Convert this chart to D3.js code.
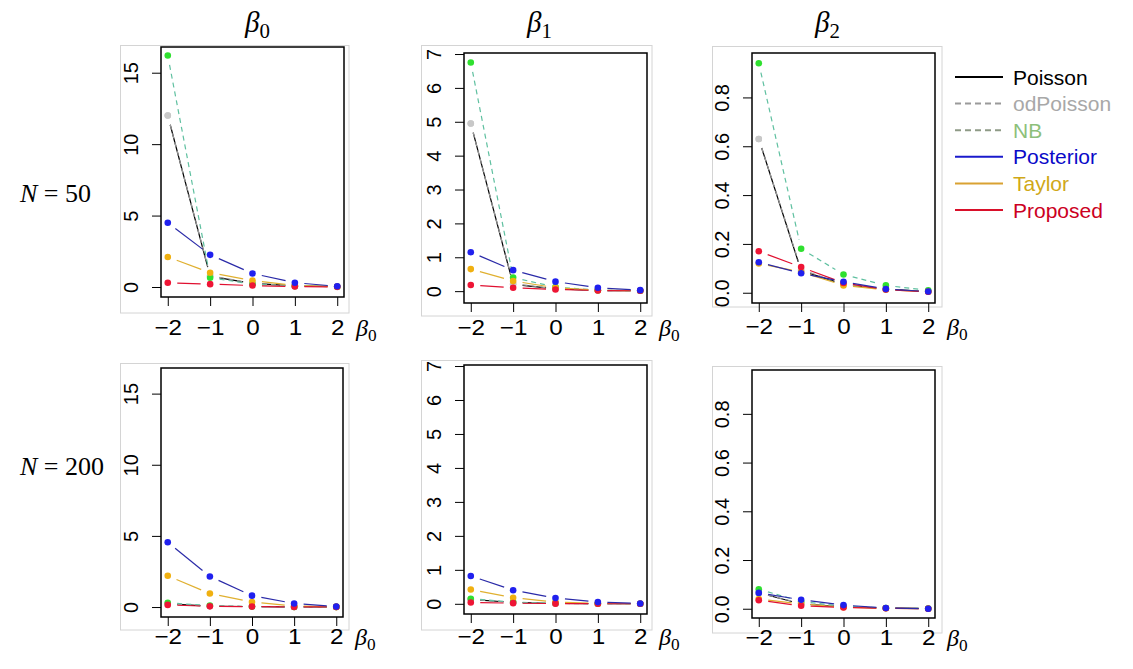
<!DOCTYPE html>
<meta charset="utf-8">
<style>

    body {
        margin: 0;
        background: #fff;
    }

    text {
        pointer-events: none;
    }

    .greek {
        font-family: "Liberation Serif", "DejaVu Serif", serif;
        font-style: italic;
    }

</style>

<body>

<div id="d3_target"></div>
<script src="https://d3js.org/d3.v7.min.js"></script>
<script>
    // series and x levels
    var seriesNames = ["Poisson", "odPoisson", "NB", "Posterior", "Taylor", "Proposed"];
    var betaLevels = [-2, -1, 0, 1, 2];
    var paramNames = ["0", "1", "2"];
    var sampleSizes = ["50", "200"];

    // rows follow seriesNames order, columns follow betaLevels
    var n50_beta0 = [
        [12.0, 0.75, 0.25, 0.08, 0.03],
        [12.0, 0.8, 0.25, 0.08, 0.03],
        [16.2, 0.65, 0.2, 0.06, 0.02],
        [4.5, 2.25, 0.95, 0.3, 0.05],
        [2.1, 1.0, 0.45, 0.1, 0.02],
        [0.3, 0.2, 0.1, 0.03, 0.01]
    ];
    var n50_beta1 = [
        [4.95, 0.2, 0.07, 0.02, 0.01],
        [4.95, 0.22, 0.07, 0.02, 0.01],
        [6.75, 0.4, 0.12, 0.03, 0.01],
        [1.15, 0.62, 0.28, 0.1, 0.03],
        [0.65, 0.3, 0.1, 0.03, 0.01],
        [0.18, 0.1, 0.05, 0.02, 0.01]
    ];
    var n50_beta2 = [
        [0.63, 0.09, 0.035, 0.015, 0.005],
        [0.63, 0.095, 0.035, 0.015, 0.005],
        [0.94, 0.18, 0.075, 0.03, 0.01],
        [0.125, 0.08, 0.045, 0.015, 0.005],
        [0.12, 0.085, 0.03, 0.012, 0.004],
        [0.17, 0.105, 0.04, 0.013, 0.004]
    ];
    var n200_beta0 = [
        [0.22, 0.06, 0.03, 0.01, 0.01],
        [0.22, 0.07, 0.03, 0.01, 0.01],
        [0.3, 0.1, 0.04, 0.01, 0.01],
        [4.55, 2.15, 0.8, 0.25, 0.03],
        [2.2, 0.95, 0.35, 0.08, 0.01],
        [0.15, 0.05, 0.03, 0.01, 0.01]
    ];
    var n200_beta1 = [
        [0.13, 0.04, 0.01, 0.005, 0.002],
        [0.13, 0.04, 0.01, 0.005, 0.002],
        [0.15, 0.05, 0.015, 0.005, 0.002],
        [0.82, 0.4, 0.17, 0.05, 0.01],
        [0.42, 0.18, 0.05, 0.01, 0.003],
        [0.04, 0.02, 0.005, 0.002, 0.001]
    ];
    var n200_beta2 = [
        [0.065, 0.02, 0.008, 0.003, 0.001],
        [0.065, 0.022, 0.008, 0.003, 0.001],
        [0.08, 0.03, 0.01, 0.003, 0.001],
        [0.065, 0.037, 0.015, 0.003, 0.0],
        [0.04, 0.02, 0.006, 0.002, 0.0],
        [0.035, 0.012, 0.005, 0.002, 0.0]
    ];

    // y ticks per column
    var yTicks0 = [0, 5, 10, 15];
    var yTicks1 = [0, 1, 2, 3, 4, 5, 6, 7];
    var yTicks2 = [0, 0.2, 0.4, 0.6, 0.8];

    var width = 1133,
        height = 669,
        gapPx = 9.5,
        tickLen = 9;

    var lineColor = ["#000000", "#9a9a9a", "#5fc0a0", "#2a2aa8", "#e0b030", "#e01030"];
    var dashes = [null, "5,4", "5,4", null, null, null];
    var pointColor = ["#c4c4c4", "#c8c8c8", "#2fe02f", "#2020ee", "#f0b010", "#ee1535"];
    var legendLine = ["#000000", "#9a9a9a", "#8e9a86", "#1a1acc", "#d9a232", "#d9102a"];
    var legendText = ["#000000", "#a8a8a8", "#8dc07a", "#0a0ac8", "#d0a818", "#cc0022"];
    var drawOrder = [0, 1, 2, 4, 5, 3];

    var panels = [
        {data: n50_beta0, ticks: yTicks0, ydom: [-0.7, 16.8], fmt: d3.format("d"),
            box: [161, 47, 344, 297], frame: [120.5, 45.5, 349, 313], lblY: 335},
        {data: n50_beta1, ticks: yTicks1, ydom: [-0.35, 7.03], fmt: d3.format("d"),
            box: [464, 53, 647, 303], frame: [421.5, 45.5, 652, 316], lblY: 335},
        {data: n50_beta2, ticks: yTicks2, ydom: [-0.042, 0.982], fmt: d3.format(".1f"),
            box: [752, 53, 935, 303], frame: [712.5, 46.5, 942, 307], lblY: 334},
        {data: n200_beta0, ticks: yTicks0, ydom: [-0.7, 16.8], fmt: d3.format("d"),
            box: [161, 368, 343, 617], frame: [120.5, 363.5, 349, 630], lblY: 644},
        {data: n200_beta1, ticks: yTicks1, ydom: [-0.3, 7.03], fmt: d3.format("d"),
            box: [464, 365, 647, 614], frame: [421.5, 360.5, 652, 630], lblY: 644},
        {data: n200_beta2, ticks: yTicks2, ydom: [-0.038, 0.98], fmt: d3.format(".1f"),
            box: [752, 370, 935, 618], frame: [712.5, 366.5, 942, 633], lblY: 645}
    ];

    var svg = d3.select("#d3_target").append("svg")
        .attr("width", width)
        .attr("height", height);

    function greek(sel, sub, size) {
        sel.attr("class", "greek").style("font-size", size + "px");
        sel.append("tspan").text("β");
        sel.append("tspan")
            .attr("dy", size * 0.22)
            .style("font-style", "normal")
            .style("font-size", (size * 0.72) + "px")
            .text(sub);
    }

    function tickFont(sel, size) {
        sel.attr("font-family", null)
            .attr("font-size", null)
            .style("font-family", "'Liberation Sans', Arial, sans-serif")
            .style("font-size", size + "px")
            .attr("fill", "#000");
    }

    panels.forEach(function (p) {
        var g = svg.append("g");

        var x = d3.scaleLinear().domain([-2.16, 2.16]).range([p.box[0], p.box[2]]);
        var y = d3.scaleLinear().domain(p.ydom).range([p.box[3], p.box[1]]);

        // light frame around each panel
        g.append("rect")
            .attr("x", p.frame[0])
            .attr("y", p.frame[1])
            .attr("width", p.frame[2] - p.frame[0])
            .attr("height", p.frame[3] - p.frame[1])
            .attr("fill", "none")
            .attr("stroke", "#d4d4d4")
            .attr("stroke-width", 1);

        // x axis
        var xAxis = d3.axisBottom(x).tickValues(betaLevels).tickSize(tickLen).tickFormat(d3.format("d"));
        var xg = g.append("g")
            .attr("transform", "translate(0," + p.box[3] + ")")
            .call(xAxis)
            .call(tickFont, 22);
        xg.select(".domain").remove();
        xg.selectAll("line").attr("stroke", "#000");
        xg.selectAll("text")
            .attr("y", p.lblY - p.box[3])
            .attr("dy", null)
            .attr("transform", "scale(1.1,1)")
            .text(function (d) { return d < 0 ? "\u2212" + Math.abs(d) : d; });

        // y axis, labels turned
        var yAxis = d3.axisLeft(y).tickValues(p.ticks).tickSize(tickLen).tickFormat(p.fmt);
        var yg = g.append("g")
            .attr("transform", "translate(" + p.box[0] + ",0)")
            .call(yAxis)
            .call(tickFont, 20);
        yg.select(".domain").remove();
        yg.selectAll("line").attr("stroke", "#000");
        yg.selectAll("text")
            .attr("x", null)
            .attr("dy", null)
            .attr("text-anchor", "middle")
            .attr("dominant-baseline", "central")
            .attr("transform", "translate(-30,0) rotate(-90)");

        // x axis title
        g.append("text")
            .attr("x", p.box[2] + 12)
            .attr("y", p.lblY + 1)
            .call(greek, "0", 24);

        // segments with gaps near the points (like type = "b")
        drawOrder.forEach(function (s) {
            var vals = p.data[s];
            var segs = [];
            for (var i = 0; i < vals.length - 1; i++) {
                var x1 = x(betaLevels[i]), y1 = y(vals[i]),
                    x2 = x(betaLevels[i + 1]), y2 = y(vals[i + 1]);
                var len = Math.sqrt((x2 - x1) * (x2 - x1) + (y2 - y1) * (y2 - y1));
                if (len > 2 * gapPx) {
                    var ux = (x2 - x1) / len, uy = (y2 - y1) / len;
                    segs.push([x1 + ux * gapPx, y1 + uy * gapPx, x2 - ux * gapPx, y2 - uy * gapPx]);
                }
            }
            g.selectAll(".seg" + s)
                .data(segs)
                .enter().append("line")
                .attr("x1", function (d) { return d[0]; })
                .attr("y1", function (d) { return d[1]; })
                .attr("x2", function (d) { return d[2]; })
                .attr("y2", function (d) { return d[3]; })
                .attr("stroke", lineColor[s])
                .attr("stroke-width", 1.2)
                .attr("stroke-dasharray", dashes[s]);

            g.selectAll(".pt" + s)
                .data(vals)
                .enter().append("circle")
                .attr("cx", function (d, i) { return x(betaLevels[i]); })
                .attr("cy", function (d) { return y(d); })
                .attr("r", 3.3)
                .attr("fill", pointColor[s]);
        });

        // plot box
        g.append("rect")
            .attr("x", p.box[0])
            .attr("y", p.box[1])
            .attr("width", p.box[2] - p.box[0])
            .attr("height", p.box[3] - p.box[1])
            .attr("fill", "none")
            .attr("stroke", "#000")
            .attr("stroke-width", 1.5);
    });

    // column titles
    var colCenters = [258, 540, 828];
    paramNames.forEach(function (n, i) {
        svg.append("text")
            .attr("x", colCenters[i] - 13)
            .attr("y", 32)
            .call(greek, n, 29);
    });

    // row labels
    var rowY = [202, 475];
    sampleSizes.forEach(function (n, i) {
        var t = svg.append("text")
            .attr("x", 20)
            .attr("y", rowY[i])
            .style("font-family", "'Liberation Serif', serif")
            .style("font-size", "26px");
        t.append("tspan").style("font-style", "italic").text("N");
        t.append("tspan").text(" = " + n);
    });

    // legend
    var legend = svg.append("g");
    var legY = d3.scalePoint().domain(seriesNames).range([77, 210]);
    seriesNames.forEach(function (name, i) {
        legend.append("line")
            .attr("x1", 955)
            .attr("x2", 1003)
            .attr("y1", legY(name))
            .attr("y2", legY(name))
            .attr("stroke", legendLine[i])
            .attr("stroke-width", 2)
            .attr("stroke-dasharray", dashes[i] ? "6,4" : null);
        legend.append("text")
            .attr("x", 1013)
            .attr("y", legY(name))
            .attr("dominant-baseline", "central")
            .style("font-family", "'Liberation Sans', Arial, sans-serif")
            .style("font-size", "21px")
            .attr("fill", legendText[i])
            .text(name);
    });
</script>
